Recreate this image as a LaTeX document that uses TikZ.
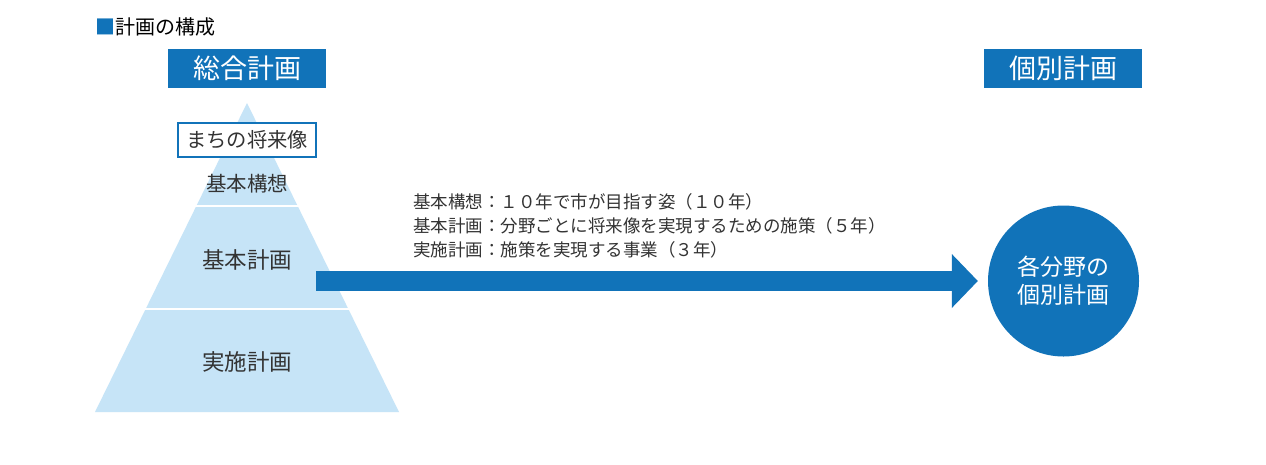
\documentclass[tikz,border=0pt]{standalone}
\usepackage{fontspec}
\setmainfont{Noto Sans CJK JP}
\usetikzlibrary{arrows.meta,positioning}
\definecolor{PlanBlue}{HTML}{1173B9}
\definecolor{PlanLight}{HTML}{C6E4F7}
\definecolor{PlanText}{HTML}{333333}

\begin{document}
\begin{tikzpicture}[x=1pt, y=-1pt,
    head/.style = {fill=PlanBlue, text=white, minimum width=158pt, minimum height=39pt, inner sep=0pt, font=\fontsize{27}{31}\selectfont},
    layer/.style = {text=PlanText, inner sep=0pt, font=\fontsize{22.5}{26}\selectfont},
    note/.style = {anchor=west, text=PlanText, inner sep=0pt, font=\fontsize{17.5}{21}\selectfont}]
      \fill[white] (0,0) rectangle (1266,464);
      \useasboundingbox (0,0) rectangle (1266,464);
      \node[anchor=west, inner sep=0pt, font=\fontsize{20}{24}\selectfont] (title) at (95,27) {{\color{PlanBlue}■}計画の構成};
      \node[head] (sogo) at (247,68.5) {総合計画};
      \node[head] (kobetsu) at (1063,68.5) {個別計画};
      % pyramid
      \fill[PlanLight] (247,103) -- (399,412) -- (95,412) -- cycle;
      \draw[white, line width=2.5pt] (190,206) -- (304,206);
      \draw[white, line width=2.5pt] (140,309) -- (354,309);
      \node[draw=PlanBlue, line width=2.5pt, fill=white, minimum width=138pt, minimum height=34pt, inner sep=0pt, text=PlanText, font=\fontsize{20.3}{24}\selectfont] (vision) at (247,140) {まちの将来像};
      \node[layer, font=\fontsize{20.5}{24}\selectfont] (koso) at (247,184) {基本構想};
      \node[layer] (kihon) at (247,260) {基本計画};
      \node[layer] (jisshi) at (247,362) {実施計画};
      % notes
      \node[note] (n1) at (413,202) {基本構想：１０年で市が目指す姿（１０年）};
      \node[note] (n2) at (413,226) {基本計画：分野ごとに将来像を実現するための施策（５年）};
      \node[note] (n3) at (413,250) {実施計画：施策を実現する事業（３年）};
      % individual plans
      \node[circle, fill=PlanBlue, minimum size=151pt, inner sep=0pt, text=white, align=center, font=\fontsize{23}{28}\selectfont] (kaku) at (1063.5,281) {各分野の\\個別計画};
      \coordinate (start) at (316,281);
      \draw[PlanBlue, line width=20pt, -{Triangle[length=26pt,width=54pt,line width=0pt]}, shorten >=10pt] (start) -- (kaku.west);
    \end{tikzpicture}
\end{document}
